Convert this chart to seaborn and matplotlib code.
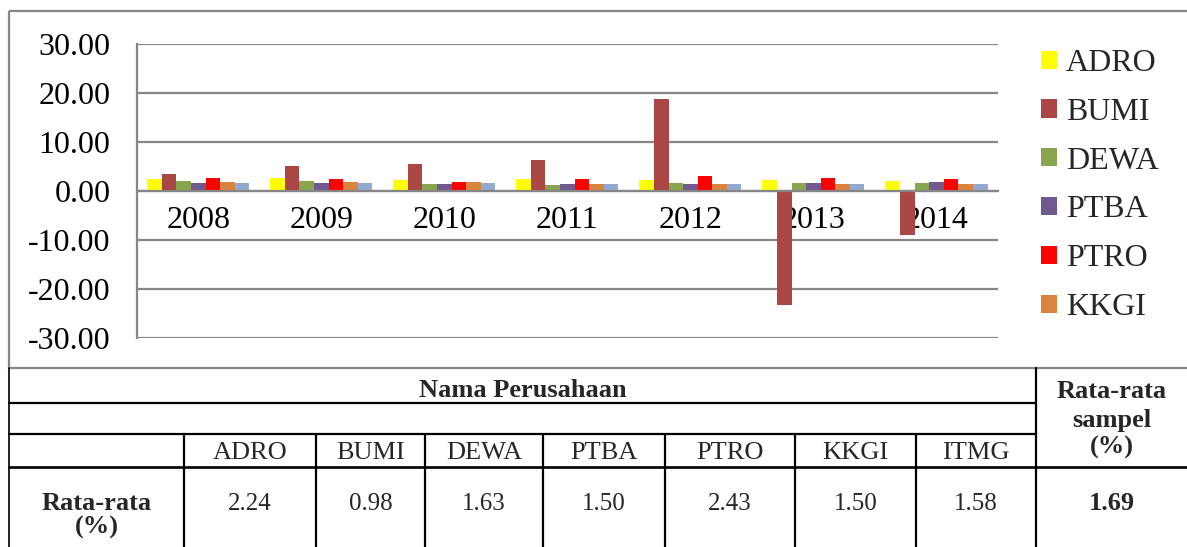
import matplotlib
matplotlib.use("Agg")
import matplotlib.pyplot as plt
from matplotlib.patches import Patch, Rectangle
import seaborn as sns
import pandas as pd

# ---------------- data ----------------
years = ["2008", "2009", "2010", "2011", "2012", "2013", "2014"]
companies = ["ADRO", "BUMI", "DEWA", "PTBA", "PTRO", "KKGI", "ITMG"]
adro = [2.34, 2.62, 2.20, 2.34, 2.19, 2.12, 1.92]
bumi = [3.45, 5.10, 5.50, 6.34, 18.77, -23.40, -9.10]
dewa = [1.93, 1.93, 1.38, 1.24, 1.58, 1.58, 1.58]
ptba = [1.59, 1.52, 1.38, 1.37, 1.44, 1.50, 1.71]
ptro = [2.55, 2.41, 1.79, 2.33, 2.95, 2.53, 2.33]
kkgi = [1.79, 1.79, 1.72, 1.44, 1.37, 1.37, 1.30]
itmg = [1.66, 1.59, 1.52, 1.44, 1.44, 1.37, 1.44]
series = [adro, bumi, dewa, ptba, ptro, kkgi, itmg]
colors = ["#FFFF00", "#AA4643", "#89A54E", "#71588F", "#FF0000", "#DB843D", "#93A9CF"]
yticks = [-30, -20, -10, 0, 10, 20, 30]

avg_values = [2.24, 0.98, 1.63, 1.50, 2.43, 1.50, 1.58]
sample_avg = 1.69

rows = []
for comp, vals in zip(companies, series):
    for yr, v in zip(years, vals):
        rows.append({"Tahun": yr, "Perusahaan": comp, "Nilai": v})
df = pd.DataFrame(rows)

# ---------------- style ----------------
sns.set_style("white")
plt.rcParams["font.family"] = ["Liberation Serif", "DejaVu Serif"]

W, H = 1187, 547
fig = plt.figure(figsize=(W / 100, H / 100), dpi=100)
GRAY = "#868686"

# layout overlay (pixel coordinates)
ov = fig.add_axes([0, 0, 1, 1], zorder=0)
ov.set_xlim(0, W)
ov.set_ylim(H, 0)
ov.axis("off")

# chart axes
L, R, T, B = 136.7, 998, 43.7, 337.7
ax = fig.add_axes([L / W, 1 - B / H, (R - L) / W, (B - T) / H], zorder=1)
ax.patch.set_alpha(0)

sns.barplot(data=df, x="Tahun", y="Nilai", hue="Perusahaan",
            order=years, hue_order=companies, palette=colors,
            saturation=1, width=0.83, linewidth=0, errorbar=None,
            legend=False, ax=ax)

ax.set_ylim(-30, 30)
ax.set_yticks(yticks)
ax.yaxis.set_major_formatter(matplotlib.ticker.FuncFormatter(lambda v, p: f"{v:.2f}"))
ax.set_xlabel("")
ax.set_ylabel("")
ax.yaxis.grid(True, color=GRAY, linewidth=1.6)
ax.xaxis.grid(False)
ax.set_axisbelow(True)
for s in ["top", "right"]:
    ax.spines[s].set_visible(False)
ax.spines["left"].set_color(GRAY)
ax.spines["left"].set_linewidth(1.6)
ax.spines["bottom"].set_position(("data", 0))
ax.spines["bottom"].set_color(GRAY)
ax.spines["bottom"].set_linewidth(1.6)
ax.tick_params(axis="y", length=6.8, width=1.6, color=GRAY, pad=12,
               labelsize=23, labelcolor="black")
ax.tick_params(axis="x", length=0, pad=11, labelsize=23, labelcolor="black")

# legend (only first six entries visible in reference)
handles = [Patch(facecolor=c, edgecolor="none") for c in colors[:6]]
fig.legend(handles, companies[:6], loc="upper left",
           bbox_to_anchor=(1041 / W, 1 - 49 / H), frameon=False,
           fontsize=23, handlelength=0.5, handleheight=0.5,
           handletextpad=0.28, labelspacing=0.62, borderpad=0,
           borderaxespad=0)

# chart frame
ov.add_patch(Rectangle((9, 11), W + 10, 368 - 11, fill=False,
                       edgecolor=GRAY, linewidth=1.6))

# ---------------- table ----------------
col_edges = [9, 184, 316, 425, 543, 665, 795, 916, 1036]
lw = 1.6
ov.plot([9, 9], [368, H], color="black", lw=1.2)
ov.plot([1036, 1036], [368, H], color="black", lw=lw)
ov.plot([9, 1036], [402.7, 402.7], color="black", lw=lw)
ov.plot([9, 1036], [434.2, 434.2], color="black", lw=lw)
ov.plot([9, W], [467.3, 467.3], color="black", lw=1.9)
for x in col_edges[1:-1]:
    ov.plot([x, x], [434.2, H], color="black", lw=lw)

FS = 19
ov.text((9 + 1036) / 2, 397, "Nama Perusahaan", ha="center", va="baseline",
        fontsize=FS, fontweight="bold")
cx_last = (1036 + W) / 2
for txt, yb in zip(["Rata-rata", "sampel", "(%)"], [398, 427, 454]):
    ov.text(cx_last, yb, txt, ha="center", va="baseline", fontsize=FS,
            fontweight="bold")

for i, comp in enumerate(companies):
    cx = (col_edges[i + 1] + col_edges[i + 2]) / 2
    ov.text(cx, 459, comp, ha="center", va="baseline", fontsize=FS)
    ov.text(cx, 510, f"{avg_values[i]:.2f}", ha="center", va="baseline",
            fontsize=18)

ov.text(97, 510, "Rata-rata", ha="center", va="baseline", fontsize=FS,
        fontweight="bold")
ov.text(97, 534, "(%)", ha="center", va="baseline", fontsize=FS,
        fontweight="bold")
ov.text(cx_last, 510, f"{sample_avg:.2f}", ha="center", va="baseline",
        fontsize=FS, fontweight="bold")

fig.savefig("out.png", dpi=100)
